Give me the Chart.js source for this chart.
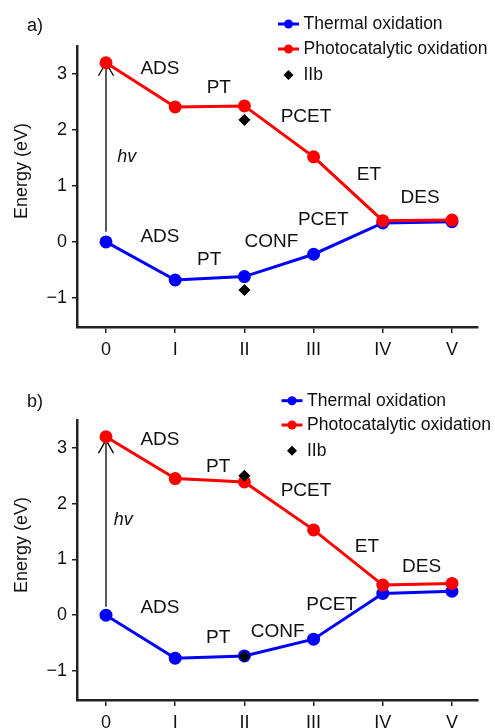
<!DOCTYPE html>
<html>
<head>
<meta charset="utf-8">
<script src="https://cdn.jsdelivr.net/npm/chart.js@4.4.1/dist/chart.umd.min.js"></script>
<style>
html, body { margin: 0; padding: 0; background: #fff; }
.panel { position: absolute; left: 0; width: 495px; height: 364px; }
</style>
</head>
<body>
<div class="panel" style="top:0"><canvas id="chartA" width="495" height="364"></canvas></div>
<div class="panel" style="top:364px"><canvas id="chartB" width="495" height="364"></canvas></div>
<script>
// Reaction coordinate (stage) labels and y ticks
const stages = ['0', 'I', 'II', 'III', 'IV', 'V'];
const yTicks = [-1, 0, 1, 2, 3];
const iibStage = 2;
const arrowStage = 0;

// Panel a)
const thermalA = [0, -0.68, -0.62, -0.22, 0.34, 0.36];
const photoA = [3.2, 2.41, 2.43, 1.52, 0.38, 0.39];
const iibA = [2.18, -0.86];
const stepsA = ['ADS', 'PT', 'PCET', 'ET', 'DES', 'ADS', 'PT', 'CONF', 'PCET'];
const stepXA = [0.78, 1.63, 2.89, 3.80, 4.54, 0.78, 1.49, 2.39, 3.14];
const stepYA = [3.09, 2.75, 2.23, 1.20, 0.78, 0.09, -0.32, 0.0, 0.39];
const hvA = [0.30, 1.52];
const arrowA = [0.18, 3.2];

// Panel b)
const thermalB = [0, -0.77, -0.73, -0.43, 0.39, 0.43];
const photoB = [3.2, 2.45, 2.39, 1.53, 0.54, 0.57];
const iibB = [2.50, -0.74];
const stepsB = ['ADS', 'PT', 'PCET', 'ET', 'DES', 'ADS', 'PT', 'CONF', 'PCET'];
const stepXB = [0.78, 1.62, 2.89, 3.77, 4.56, 0.78, 1.62, 2.48, 3.26];
const stepYB = [3.14, 2.67, 2.24, 1.23, 0.86, 0.13, -0.41, -0.30, 0.18];
const hvB = [0.25, 1.71];
const arrowB = [0.15, 3.14];

const FONT = "'Liberation Sans', Arial, Helvetica, sans-serif";
const legendOrder = ['Thermal oxidation', 'Photocatalytic oxidation', 'IIb'];

function extras(p) {
    return {
        id: 'extras',
        beforeDatasetsDraw(chart) {
            // hv arrow
            const { ctx, scales: { x, y } } = chart;
            const px = x.getPixelForValue(arrowStage);
            const y0 = y.getPixelForValue(p.arrow[0]);
            const y1 = y.getPixelForValue(p.arrow[1]);
            ctx.save();
            ctx.strokeStyle = '#000';
            ctx.lineWidth = 1.3;
            ctx.beginPath();
            ctx.moveTo(px, y0);
            ctx.lineTo(px, y1);
            ctx.moveTo(px - 7.5, y1 + 13);
            ctx.lineTo(px, y1);
            ctx.lineTo(px + 7.5, y1 + 13);
            ctx.stroke();
            ctx.restore();
        },
        afterDraw(chart) {
            const { ctx, chartArea, scales: { x, y } } = chart;
            ctx.save();
            ctx.fillStyle = '#111';
            ctx.textBaseline = 'middle';

            // step labels
            ctx.textAlign = 'center';
            ctx.font = '19px ' + FONT;
            p.steps.forEach((s, i) => {
                ctx.fillText(s, x.getPixelForValue(p.stepX[i]), y.getPixelForValue(p.stepY[i]));
            });
            ctx.font = 'italic 18px ' + FONT;
            ctx.fillText('hv', x.getPixelForValue(p.hv[0]), y.getPixelForValue(p.hv[1]));

            // panel letter
            ctx.textAlign = 'left';
            ctx.font = '18px ' + FONT;
            ctx.fillText(p.letter, 27, p.letterY);

            // y axis title
            ctx.save();
            ctx.translate(22, chartArea.top + 125);
            ctx.rotate(-Math.PI / 2);
            ctx.textAlign = 'center';
            ctx.fillText('Energy (eV)', 0, 0);
            ctx.restore();

            // legend
            ctx.font = '17.5px ' + FONT;
            legendOrder.forEach((name, i) => {
                const ds = chart.data.datasets.find(d => d.label === name);
                const ly = chartArea.top + p.legendRows[i];
                const lx = p.legendX;
                if (ds.showLine !== false) {
                    ctx.strokeStyle = ds.borderColor;
                    ctx.lineWidth = 3;
                    ctx.beginPath();
                    ctx.moveTo(lx - 10.5, ly);
                    ctx.lineTo(lx + 10.5, ly);
                    ctx.stroke();
                    ctx.fillStyle = ds.backgroundColor;
                    ctx.beginPath();
                    ctx.arc(lx, ly, 4.5, 0, Math.PI * 2);
                    ctx.fill();
                } else {
                    ctx.fillStyle = ds.backgroundColor;
                    ctx.beginPath();
                    ctx.moveTo(lx, ly - 5);
                    ctx.lineTo(lx + 5, ly);
                    ctx.lineTo(lx, ly + 5);
                    ctx.lineTo(lx - 5, ly);
                    ctx.closePath();
                    ctx.fill();
                }
                ctx.fillStyle = '#111';
                ctx.fillText(name, lx + 15, ly);
            });
            ctx.restore();
        }
    };
}

function makeChart(id, thermal, photo, iib, p) {
    const pts = vals => vals.map((v, i) => ({ x: i, y: v }));
    const axisFont = { family: FONT, size: 18 };
    const grid = { drawOnChartArea: false, color: '#222', lineWidth: 1.5 };
    const border = { color: '#222', width: 2.5 };
    return new Chart(document.getElementById(id).getContext('2d'), {
        type: 'line',
        data: {
            datasets: [
                {
                    label: 'IIb',
                    data: iib.map(v => ({ x: iibStage, y: v })),
                    showLine: false,
                    pointStyle: 'rectRot',
                    pointRadius: 5.5,
                    backgroundColor: '#000',
                    borderColor: '#000',
                    order: 0
                },
                {
                    label: 'Photocatalytic oxidation',
                    data: pts(photo),
                    borderColor: '#ff0000',
                    backgroundColor: '#ff0000',
                    borderWidth: 3,
                    pointRadius: 5,
                    order: 1
                },
                {
                    label: 'Thermal oxidation',
                    data: pts(thermal),
                    borderColor: '#0000ff',
                    backgroundColor: '#0000ff',
                    borderWidth: 3,
                    pointRadius: 5,
                    order: 2
                }
            ]
        },
        options: {
            responsive: false,
            animation: false,
            layout: { padding: { top: p.top, right: 17, bottom: 0, left: 0 } },
            plugins: { legend: { display: false }, tooltip: { enabled: false } },
            scales: {
                x: {
                    type: 'linear',
                    min: -0.419,
                    max: 5.376,
                    afterBuildTicks: s => { s.ticks = stages.map((_, i) => ({ value: i })); },
                    afterFit: s => { s.height = p.xHeight; },
                    ticks: { callback: v => stages[v], font: axisFont, color: '#111', padding: 6, maxRotation: 0, autoSkip: false },
                    grid: Object.assign({ tickLength: 6 }, grid),
                    border: border
                },
                y: {
                    min: -1.52,
                    max: 3.5,
                    afterBuildTicks: s => { s.ticks = yTicks.map(v => ({ value: v })); },
                    afterFit: s => { s.width = 77; },
                    ticks: { callback: v => v < 0 ? '\u2212' + Math.abs(v) : String(v), font: axisFont, color: '#111', padding: 5 },
                    grid: Object.assign({ tickLength: 5 }, grid),
                    border: border
                }
            }
        },
        plugins: [extras(p)]
    });
}

makeChart('chartA', thermalA, photoA, iibA, {
    top: 46, xHeight: 37,
    steps: stepsA, stepX: stepXA, stepY: stepYA, hv: hvA, arrow: arrowA,
    letter: 'a)', letterY: 26,
    legendX: 288.5, legendRows: [-22, 3, 29]
});

makeChart('chartB', thermalB, photoB, iibB, {
    top: 56, xHeight: 28,
    steps: stepsB, stepX: stepXB, stepY: stepYB, hv: hvB, arrow: arrowB,
    letter: 'b)', letterY: 38.5,
    legendX: 292, legendRows: [-19.3, 5, 30.7]
});
</script>
</body>
</html>
